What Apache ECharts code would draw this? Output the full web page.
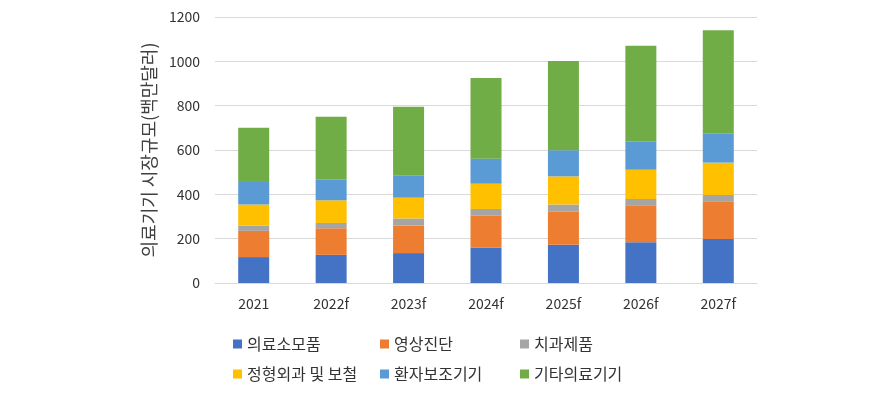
<!DOCTYPE html>
<html><head><meta charset="utf-8">
<script src="https://cdn.jsdelivr.net/npm/echarts@6/dist/echarts.min.js"></script>
<style>html,body{margin:0;padding:0;background:#fff}#c{width:888px;height:398px}</style>
</head><body><div id="c"></div>
<script>
const categories = ['2021','2022f','2023f','2024f','2025f','2026f','2027f'];
const seriesNames = ['의료소모품','영상진단','치과제품','정형외과 및 보철','환자보조기기','기타의료기기'];
const consumables = [117, 127, 135, 160, 172, 184, 198];
const imaging     = [118, 120, 124, 144, 150, 164, 171];
const dental      = [24, 24, 32, 30, 32, 31, 28];
const orthopedic  = [95, 102, 94, 114, 127, 132, 146];
const patientAid  = [106, 95, 99, 113, 118, 126, 132];
const others      = [240, 282, 311, 364, 402, 433, 465];
const yTicks = {min: 0, max: 1200, interval: 200};
const colors = ['#4472C4','#ED7D31','#A5A5A5','#FFC000','#5B9BD5','#70AD47'];
const values = [consumables, imaging, dental, orthopedic, patientAid, others];

const font = '"Noto Sans CJK KR", "Noto Sans", sans-serif';
const legendPos = [
  {left: 228, top: 331}, {left: 375, top: 331}, {left: 515, top: 331},
  {left: 228, top: 361}, {left: 375, top: 361}, {left: 515, top: 361}
];
const chart = echarts.init(document.getElementById('c'), null, {renderer: 'canvas'});
chart.setOption({
  animation: false,
  textStyle: {fontFamily: font},
  grid: {left: 215, right: 131, top: 17, bottom: 115, containLabel: false},
  legend: seriesNames.map((n, i) => ({
    data: [n], left: legendPos[i].left, top: legendPos[i].top,
    icon: 'rect', itemWidth: 9, itemHeight: 9, itemGap: 4,
    textStyle: {fontFamily: font, fontSize: 16, color: '#333333', padding: [0,0,0,0]}
  })),
  xAxis: {
    type: 'category', data: categories,
    axisLine: {show: true, lineStyle: {color: '#d9d9d9'}},
    axisTick: {show: false},
    axisLabel: {fontFamily: font, fontSize: 14, color: '#333333', margin: 14}
  },
  yAxis: {
    type: 'value', min: yTicks.min, max: yTicks.max, interval: yTicks.interval,
    name: '의료기기 시장규모(백만달러)', nameLocation: 'middle', nameGap: 57,
    nameTextStyle: {fontFamily: font, fontSize: 18, color: '#404040'},
    axisLine: {show: false}, axisTick: {show: false},
    axisLabel: {fontFamily: font, fontSize: 14, color: '#333333', margin: 15,
      formatter: v => String(v)},
    splitLine: {lineStyle: {color: '#d9d9d9', width: 1}}
  },
  series: seriesNames.map((n, i) => ({
    name: n, type: 'bar', stack: 'total', data: values[i], barWidth: 31,
    itemStyle: {color: colors[i]}
  }))
});
</script></body></html>
